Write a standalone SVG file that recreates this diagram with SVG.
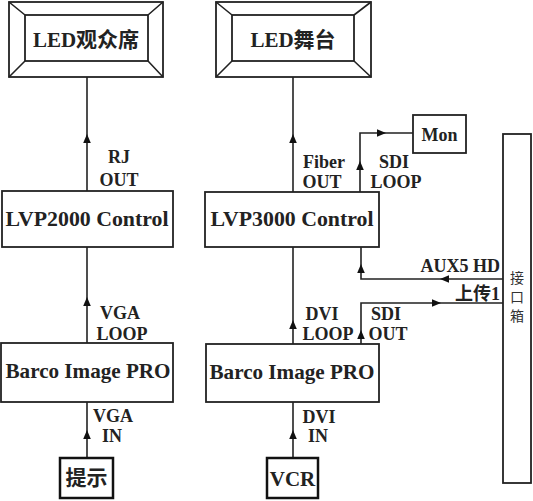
<svg xmlns="http://www.w3.org/2000/svg" width="533" height="501" viewBox="0 0 533 501">
<style>
.box{fill:#fff;stroke:#222;stroke-width:1.8}
.thick{fill:#fff;stroke:#111;stroke-width:2.5}
.ln{fill:none;stroke:#222;stroke-width:1.6}
.big{font-size:21px}
.m{text-anchor:middle}
.e{text-anchor:end}
.v{font-weight:normal;font-size:14px;fill:#333;text-anchor:middle}
</style>
<defs>
<path id="ah" d="M0,0 L-3.8,9 L3.8,9 Z" fill="#111"/>
</defs>
<rect width="533" height="501" fill="#fff"/>

<g id="connectors">
<line class="ln" x1="87" y1="77" x2="87" y2="191"/>
<use href="#ah" transform="translate(87,134)"/>
<line class="ln" x1="293" y1="77" x2="293" y2="192"/>
<use href="#ah" transform="translate(293,134)"/>
<polyline class="ln" points="360,192 360,133 413,133"/>
<use href="#ah" transform="translate(360,161)"/>
<use href="#ah" transform="translate(386,133) rotate(90)"/>
<polyline class="ln" points="503,279 361,279 361,247"/>
<use href="#ah" transform="translate(361,264)"/>
<use href="#ah" transform="translate(440,279) rotate(-90)"/>
<line class="ln" x1="293" y1="247" x2="293" y2="344"/>
<use href="#ah" transform="translate(293,320)"/>
<polyline class="ln" points="361,344 361,303 503,303"/>
<use href="#ah" transform="translate(361,330)"/>
<use href="#ah" transform="translate(441,303) rotate(90)"/>
<line class="ln" x1="87" y1="247" x2="87" y2="343"/>
<use href="#ah" transform="translate(87,297)"/>
<line class="ln" x1="87" y1="402" x2="87" y2="458"/>
<use href="#ah" transform="translate(87,430)"/>
<line class="ln" x1="293" y1="402" x2="293" y2="458"/>
<use href="#ah" transform="translate(293,430)"/>
</g>

<g font-family="Liberation Serif, Noto Sans CJK SC, serif" font-weight="bold" fill="#222" font-size="18">
<g id="labels">
<text class="m" x="119" y="163">RJ</text>
<text class="m" x="119" y="186">OUT</text>
<text class="m" x="324" y="168">Fiber</text>
<text class="m" x="322" y="188">OUT</text>
<text class="m" x="394" y="168">SDI</text>
<text class="m" x="396" y="188">LOOP</text>
<text class="e" x="500" y="272">AUX5 HD</text>
<text class="e" x="500" y="300">上传1</text>
<text class="m" x="322" y="320">DVI</text>
<text class="m" x="328" y="340">LOOP</text>
<text class="m" x="386" y="320">SDI</text>
<text class="m" x="388" y="340">OUT</text>
<text class="m" x="120" y="319">VGA</text>
<text class="m" x="122" y="340">LOOP</text>
<text class="m" x="113" y="422">VGA</text>
<text class="m" x="112" y="442">IN</text>
<text class="m" x="319" y="423">DVI</text>
<text class="m" x="318" y="442">IN</text>
</g>

<g id="led-audience">
<rect class="box" x="9" y="2" width="154" height="75"/>
<rect class="box" x="25" y="15" width="123" height="46"/>
<path class="ln" d="M9,2 L25,15 M163,2 L148,15 M9,77 L25,61 M163,77 L148,61"/>
<text class="big m" x="86" y="47">LED观众席</text>
</g>

<g id="led-stage">
<rect class="box" x="216" y="2" width="155" height="75"/>
<rect class="box" x="232" y="15" width="122" height="46"/>
<path class="ln" d="M216,2 L232,15 M371,2 L354,15 M216,77 L232,61 M371,77 L354,61"/>
<text class="big m" x="293" y="47">LED舞台</text>
</g>

<g id="lvp2000">
<rect class="box" x="2" y="191" width="171" height="56"/>
<text class="big m" x="87" y="226" textLength="163" lengthAdjust="spacingAndGlyphs">LVP2000 Control</text>
</g>

<g id="lvp3000">
<rect class="box" x="205" y="192" width="174" height="55"/>
<text class="big m" x="292" y="226" textLength="163" lengthAdjust="spacingAndGlyphs">LVP3000 Control</text>
</g>

<g id="mon">
<rect class="box" x="413" y="115" width="53" height="38"/>
<text class="m" x="439.5" y="141">Mon</text>
</g>

<g id="barco-left">
<rect class="box" x="1" y="343" width="172" height="59"/>
<text class="big m" x="88" y="378" textLength="165" lengthAdjust="spacingAndGlyphs">Barco Image PRO</text>
</g>

<g id="barco-right">
<rect class="box" x="206" y="344" width="173" height="58"/>
<text class="big m" x="292" y="379" textLength="165" lengthAdjust="spacingAndGlyphs">Barco Image PRO</text>
</g>

<g id="prompt">
<rect class="thick" x="60" y="458" width="53" height="40"/>
<text class="big m" x="86.5" y="485">提示</text>
</g>

<g id="vcr">
<rect class="thick" x="267" y="458" width="51" height="40"/>
<text class="big m" x="292.5" y="486">VCR</text>
</g>

<g id="interface-box">
<rect class="box" x="503" y="134" width="28" height="349"/>
<text class="v" x="517" y="283">接</text>
<text class="v" x="517" y="302">口</text>
<text class="v" x="517" y="321">箱</text>
</g>
</g>
</svg>
